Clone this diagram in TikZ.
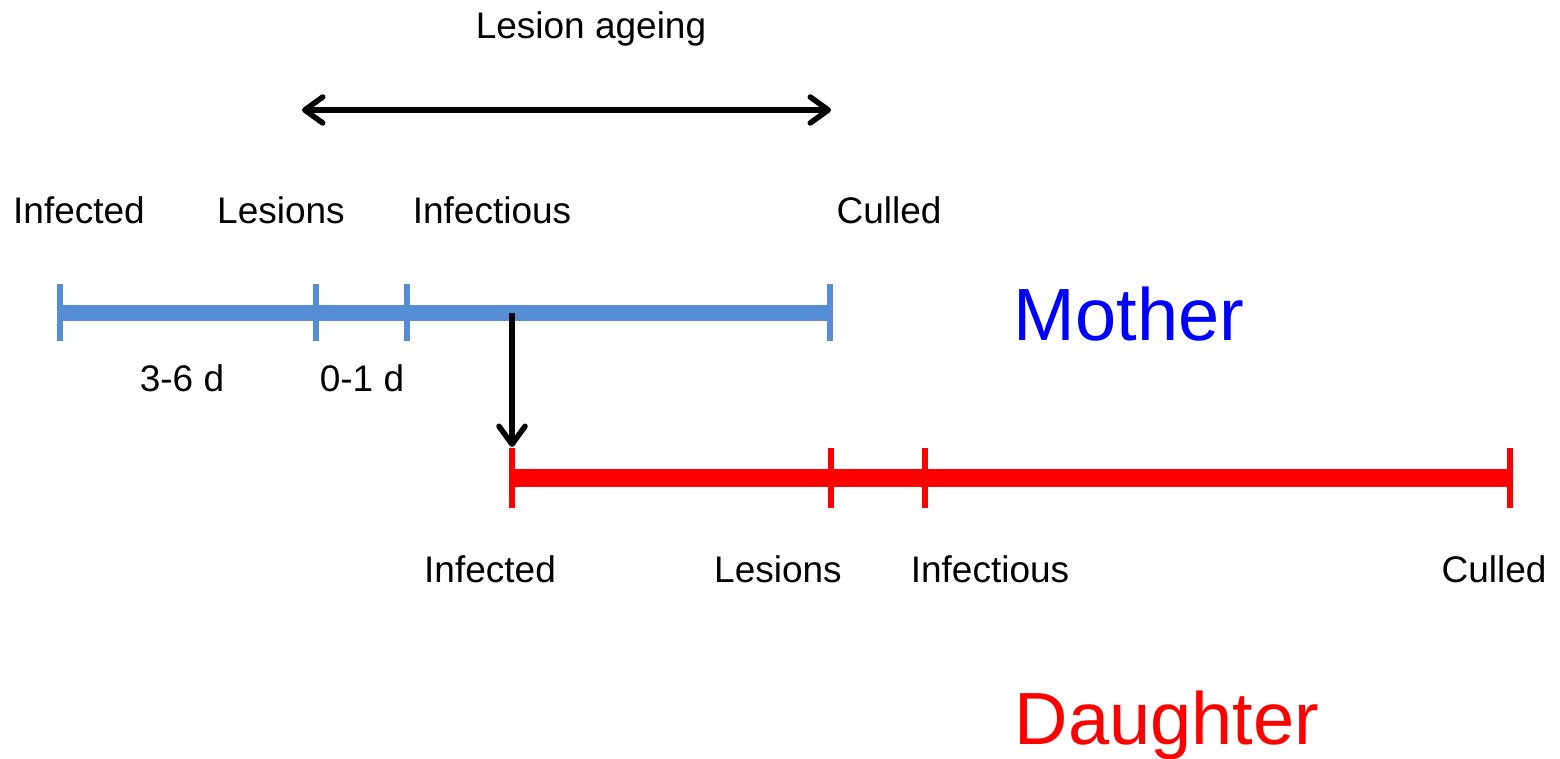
\documentclass[tikz,border=0pt]{standalone}
\usepackage{fontspec}
\setmainfont{Liberation Sans}
\usetikzlibrary{arrows.meta}
\definecolor{mblue}{RGB}{85,142,213}
\definecolor{dred}{RGB}{255,0,0}
\definecolor{tblue}{RGB}{0,0,255}
\tikzset{
  lbl/.style={inner sep=0pt, anchor=base, font=\fontsize{37}{44}\selectfont},
  big/.style={inner sep=0pt, anchor=base, font=\fontsize{74}{88}\selectfont},
  mbar/.style={draw=mblue, line width=16pt},
  mtick/.style={draw=mblue, line width=6pt},
  dbar/.style={draw=dred, line width=18pt},
  dtick/.style={draw=dred, line width=6pt},
  barb/.tip={Straight Barb[length=18pt,width=26pt,line width=5.5pt,round]},
  arr/.style={draw=black, line width=5.5pt, line cap=round, -barb},
}
\begin{document}
\begin{tikzpicture}[x=1pt,y=-1pt]
\useasboundingbox (0,0) rectangle (1560,758);
% mother timeline
\coordinate (m0) at (60,313);
\coordinate (m1) at (316,313);
\coordinate (m2) at (407,313);
\coordinate (m3) at (830,313);
\coordinate (mx) at (512,313);
\draw[mbar] (m0) -- (m3);
\foreach \c in {m0,m1,m2,m3} \draw[mtick] ([yshift=-28pt]\c) -- ([yshift=29pt]\c);
% daughter timeline
\coordinate (d0) at (512,478);
\coordinate (d1) at (831,478);
\coordinate (d2) at (925,478);
\coordinate (d3) at (1510,478);
\draw[dbar] (d0) -- (d3);
\foreach \c in {d0,d1,d2,d3} \draw[dtick] ([yshift=-30pt]\c) -- ([yshift=30pt]\c);
% transmission arrow
\coordinate (dt) at (512,447);
\draw[arr, line cap=butt] (mx) -- (dt);
% lesion ageing arrow
\coordinate (la) at (302,110);
\coordinate (lb) at (831,110);
\draw[arr, barb-barb] (la) -- (lb);
\node[lbl] (ageing) at (591,38) {Lesion ageing};
% mother labels
\node[lbl] (mInf) at (79,223) {Infected};
\node[lbl] (mLes) at (281,223) {Lesions};
\node[lbl] (mIns) at (492,223) {Infectious};
\node[lbl] (mCul) at (889,223) {Culled};
\node[lbl] (p1) at (182,391) {3-6 d};
\node[lbl] (p2) at (362,391) {0-1 d};
\node[big, text=tblue] (mother) at (1129,340) {Mother};
% daughter labels
\node[lbl] (dInf) at (490,582) {Infected};
\node[lbl] (dLes) at (778,582) {Lesions};
\node[lbl] (dIns) at (990,582) {Infectious};
\node[lbl] (dCul) at (1494,582) {Culled};
\node[big, text=dred] (daughter) at (1167,744) {Daughter};
\end{tikzpicture}
\end{document}
